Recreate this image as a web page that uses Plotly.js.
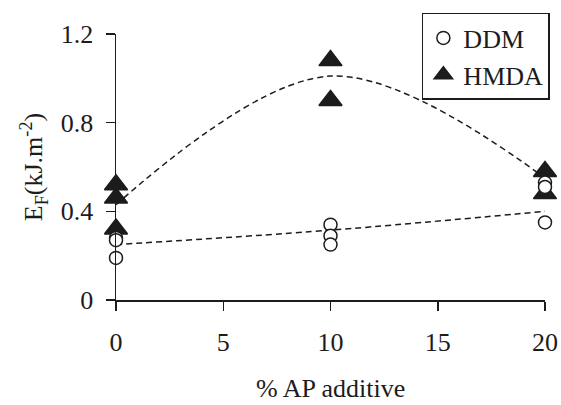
<!DOCTYPE html>
<html>
<head>
<meta charset="utf-8">
<script src="https://cdn.plot.ly/plotly-3.0.1.min.js"></script>
<style>
  html, body { margin: 0; padding: 0; background: #ffffff; }
  #chart { width: 561px; height: 405px; }
</style>
</head>
<body>
<div id="chart"></div>
<script>
// Fracture energy E_F against AP additive content (%), two amine hardeners
var ddmX  = [0, 0, 0, 10, 10, 10, 20, 20, 20];
var ddmY  = [0.28, 0.27, 0.19, 0.34, 0.29, 0.25, 0.53, 0.51, 0.35];
var hmdaX = [0, 0, 0, 10, 10, 20, 20];
var hmdaY = [0.52, 0.46, 0.32, 1.08, 0.90, 0.58, 0.48];

// dashed trend curves
var ddmTrendX  = [0, 10, 20];
var ddmTrendY  = [0.25, 0.315, 0.40];
var hmdaTrendX = [0, 10, 20];
var hmdaTrendY = [0.43, 1.01, 0.55];

var xTicks = [0, 5, 10, 15, 20];
var yTicks = [0, 0.4, 0.8, 1.2];
var yTickText = ['0', '0.4', '0.8', '1.2'];
var xTitle = '% AP additive';

var ink = '#1c1c1c';
var serif = '"Liberation Serif", "Times New Roman", serif';

var traces = [
  {
    x: ddmTrendX, y: ddmTrendY, mode: 'lines', showlegend: false, hoverinfo: 'skip',
    line: { color: ink, width: 1.5, dash: '6px,4px', shape: 'spline', smoothing: 1 }
  },
  {
    x: hmdaTrendX, y: hmdaTrendY, mode: 'lines', showlegend: false, hoverinfo: 'skip',
    line: { color: ink, width: 1.5, dash: '6px,4px', shape: 'spline', smoothing: 1 }
  },
  {
    name: 'HMDA', x: hmdaX, y: hmdaY, mode: 'markers', cliponaxis: false,
    legendrank: 2, legendgroup: 'h',
    marker: { symbol: 'triangle-up', size: 20, color: ink, line: { color: ink, width: 1.5 } }
  },
  {
    name: 'DDM', x: ddmX, y: ddmY, mode: 'markers', cliponaxis: false,
    legendrank: 1, legendgroup: 'd',
    marker: { symbol: 'circle', size: 13, color: '#ffffff', line: { color: ink, width: 1.5 } }
  }
];

var layout = {
  width: 561, height: 405,
  margin: { l: 116, r: 15, t: 34, b: 105 },
  paper_bgcolor: '#ffffff', plot_bgcolor: '#ffffff',
  font: { family: serif, size: 26, color: ink },
  showlegend: true,
  legend: {
    x: 1.009, xanchor: 'right', y: 1.079, yanchor: 'top',
    bgcolor: '#ffffff', bordercolor: ink, borderwidth: 1.5,
    font: { family: serif, size: 26, color: ink },
    traceorder: 'grouped', tracegroupgap: 0, itemwidth: 30
  },
  xaxis: {
    range: [0, 20], tickvals: xTicks, ticks: 'outside', ticklen: 9, tickwidth: 1.5, tickcolor: ink,
    showline: true, linecolor: ink, linewidth: 1.5, showgrid: false, zeroline: false,
    tickfont: { family: serif, size: 26, color: ink }, ticklabelstandoff: 9
  },
  yaxis: {
    range: [0, 1.2], tickvals: yTicks, ticktext: yTickText, ticks: 'outside', ticklen: 9, tickwidth: 1.5,
    tickcolor: ink, showline: true, linecolor: ink, linewidth: 1.5, showgrid: false, zeroline: false,
    layer: 'above traces',
    tickfont: { family: serif, size: 26, color: ink }, ticklabelstandoff: 7,
    title: { text: 'E<sub>F</sub>(kJ.m<sup>-2</sup>)', font: { family: serif, size: 26, color: ink }, standoff: 10 }
  },
  annotations: [
    {
      text: xTitle, xref: 'paper', yref: 'paper', x: 0.5, y: -0.39,
      xanchor: 'center', yanchor: 'bottom', showarrow: false, borderpad: 0,
      font: { family: serif, size: 26, color: ink }
    }
  ]
};

Plotly.newPlot('chart', traces, layout, { displayModeBar: false, staticPlot: true });
</script>
</body>
</html>
